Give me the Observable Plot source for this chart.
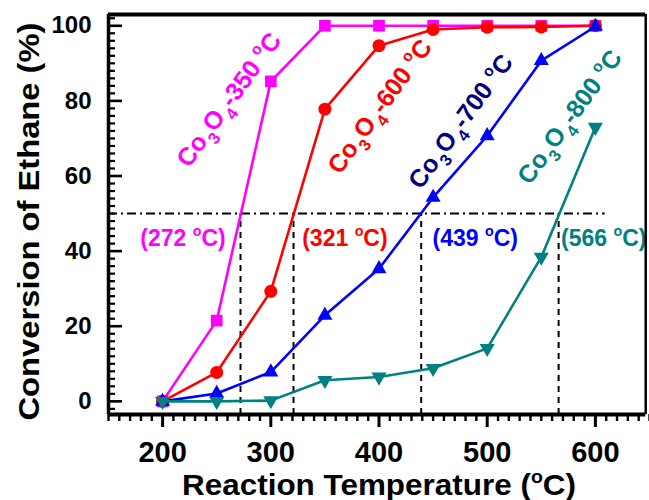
<!DOCTYPE html>
<html>
<head>
<meta charset="utf-8">
<script src="https://cdn.jsdelivr.net/npm/d3@7"></script>
<script src="https://cdn.jsdelivr.net/npm/@observablehq/plot@0.6"></script>
<style>
  html, body { margin: 0; padding: 0; background: #fff; }
  #chart { width: 649px; height: 500px; }
</style>
</head>
<body>
<div id="chart"></div>
<script>
// ---------- data ----------
const temps = [200, 250, 300, 350, 400, 450, 500, 550, 600];
const co350 = [0, 21.5, 85.2, 100, 100, 100, 100, 100, 100];
const co600 = [0, 7.7, 29.3, 77.8, 94.7, 99.0, 99.6, 99.7, 100];
const co700 = [0, 2.1, 7.8, 22.9, 35.3, 54.3, 70.7, 90.7, 99.8];
const co800 = [0, 0, 0.2, 5.6, 6.5, 8.8, 14.1, 38.4, 73.0];

const seriesNames = ["Co3O4-350 °C", "Co3O4-600 °C", "Co3O4-700 °C", "Co3O4-800 °C"];
const t50 = [272, 321, 439, 566];
const t50Labels = ["(272 °C)", "(321 °C)", "(439 °C)", "(566 °C)"];
const halfConversion = 50;
const halfLineEnd = 609;

// annotation anchors (data units)
const nameX = [218.4, 357.9, 432.7, 533.4];
const nameY = [63.2, 61.4, 57.4, 58.6];
const t50LabelX = [218.8, 368.5, 489, 607.7];
const t50LabelY = [43.4, 43.4, 43.4, 43.4];

const xTicks = [200, 300, 400, 500, 600];
const yTicks = [0, 20, 40, 60, 80, 100];
const xTitle = "Reaction Temperature (°C)";
const yTitle = "Conversion of Ethane (%)";

// ---------- styling ----------
const W = 649, H = 500;
const mL = 108, mR = 0, mT = 14, mB = 86;
const xDom = [150, 650], yDom = [-3.5, 103];
const pxX = (W - mL - mR) / (xDom[1] - xDom[0]);
const pxY = (H - mT - mB) / (yDom[1] - yDom[0]);
const FONT = "'Liberation Sans', Arial, Helvetica, sans-serif";
const lineColors = ["#ff00ff", "#ff0000", "#0000ff", "#008080"];
const nameColors = ["#ff00ff", "#ff0000", "#000080", "#008080"];
const t50Colors = ["#ff00ff", "#ff0000", "#0000ff", "#008080"];

const triangleDown = {
  draw(ctx, size) {
    const y = Math.sqrt(size / (Math.sqrt(3) * 3));
    ctx.moveTo(0, 2 * y);
    ctx.lineTo(-Math.sqrt(3) * y, -y);
    ctx.lineTo(Math.sqrt(3) * y, -y);
    ctx.closePath();
  }
};
const symbols = ["square", "circle", "triangle", triangleDown];
const radii = [6.6, 6.5, 5.6, 5.6];

const allSeries = [co350, co600, co700, co800];
const rows = allSeries.map(vals => temps.map((t, i) => ({t, v: vals[i]})));

const xMinor = d3.range(150, 651, 10).filter(v => !xTicks.includes(v));
const yMinor = d3.range(-2, 103, 2).filter(v => !yTicks.includes(v));

const marks = [];
// reference lines
marks.push(Plot.ruleY([halfConversion], {x1: xDom[0], x2: halfLineEnd, stroke: "#000", strokeWidth: 2, strokeDasharray: "9,4,2,4"}));
marks.push(Plot.ruleX(t50, {x: d => d, y1: yDom[0], y2: halfConversion, stroke: "#000", strokeWidth: 2, strokeDasharray: "6,5"}));
// series
rows.forEach((r, k) => {
  marks.push(Plot.line(r, {x: "t", y: "v", stroke: lineColors[k], strokeWidth: 2.6}));
  marks.push(Plot.dot(r, {x: "t", y: "v", fill: lineColors[k], stroke: "none", symbol: symbols[k], r: radii[k]}));
});
// T50 labels
t50Labels.forEach((s, k) => {
  marks.push(Plot.text([s], {x: t50LabelX[k], y: t50LabelY[k], text: d => d, fill: t50Colors[k], fontSize: 23, fontWeight: "bold", fontFamily: FONT}));
});
// series names
seriesNames.forEach((s, k) => {
  marks.push(Plot.text([s], {x: nameX[k], y: nameY[k], text: d => d, fill: nameColors[k], fontSize: 25, fontWeight: "bold", fontFamily: FONT, rotate: -54, textAnchor: "start", lineAnchor: "middle"}));
});
// ticks
marks.push(Plot.ruleY(yTicks, {y: d => d, x1: xDom[0], x2: xDom[0] + 14 / pxX, stroke: "#000", strokeWidth: 2.6}));
marks.push(Plot.ruleY(yMinor, {y: d => d, x1: xDom[0], x2: xDom[0] + 7 / pxX, stroke: "#000", strokeWidth: 2.2}));
marks.push(Plot.ruleX(xTicks, {x: d => d, y1: yDom[0], y2: yDom[0] - 13 / pxY, stroke: "#000", strokeWidth: 3}));
marks.push(Plot.ruleX(xMinor, {x: d => d, y1: yDom[0], y2: yDom[0] - 7 / pxY, stroke: "#000", strokeWidth: 2.4}));
// frame
marks.push(Plot.ruleY([yDom[0]], {x1: xDom[0], x2: 646.5, stroke: "#000", strokeWidth: 4}));
marks.push(Plot.ruleY([yDom[1]], {x1: xDom[0], x2: 646.5, stroke: "#000", strokeWidth: 4}));
marks.push(Plot.ruleX([xDom[0]], {y1: yDom[0], y2: yDom[1], stroke: "#000", strokeWidth: 3.5}));
marks.push(Plot.ruleX([646.5], {y1: yDom[0], y2: yDom[1], stroke: "#000", strokeWidth: 2.5}));
// tick labels
marks.push(Plot.text(xTicks, {x: d => d, text: d => String(d), frameAnchor: "bottom", dy: 38, textAnchor: "middle", lineAnchor: "middle", fontSize: 29, fontWeight: "bold", fontFamily: FONT, fill: "#000"}));
marks.push(Plot.text(yTicks, {y: d => d, text: d => String(d), frameAnchor: "left", dx: -17, textAnchor: "end", lineAnchor: "middle", fontSize: 24, fontWeight: "bold", fontFamily: FONT, fill: "#000"}));
// axis titles
marks.push(Plot.text([xTitle], {text: d => d, frameAnchor: "bottom", dy: 71, textAnchor: "middle", lineAnchor: "middle", fontSize: 30, fontWeight: "bold", fontFamily: FONT, fill: "#000"}));
marks.push(Plot.text([yTitle], {text: d => d, frameAnchor: "left", dx: -79, dy: 7, rotate: -90, textAnchor: "middle", lineAnchor: "middle", fontSize: 30, fontWeight: "bold", fontFamily: FONT, fill: "#000"}));

const plot = Plot.plot({
  width: W, height: H,
  marginLeft: mL, marginRight: mR, marginTop: mT, marginBottom: mB,
  x: {domain: xDom, axis: null},
  y: {domain: yDom, axis: null},
  style: {background: "#fff", fontFamily: FONT, overflow: "visible"},
  marks
});
document.getElementById("chart").append(plot);

// rich text: chemical subscripts and superscript degree "o"
(function richText(svg) {
  const ns = "http://www.w3.org/2000/svg";
  svg.querySelectorAll("text").forEach(el => {
    const s = el.textContent;
    if (s === yTitle) {
      el.setAttribute("textLength", 398);
      el.setAttribute("lengthAdjust", "spacingAndGlyphs");
      return;
    }
    if (!/Co3O4|°/.test(s)) return;
    const f = parseFloat(getComputedStyle(el).fontSize) || 20;
    const isFormula = /Co3O4/.test(s);
    const tokens = [];
    let i = 0, buf = "";
    while (i < s.length) {
      if (s.startsWith("Co3O4", i)) {
        if (buf) { tokens.push([buf, 0]); buf = ""; }
        tokens.push(["Co", 0], ["3", 1], ["O", 0], ["4", 1]);
        i += 5;
      } else if (s[i] === "°") {
        if (buf) { tokens.push([buf, 0]); buf = ""; }
        tokens.push(["o", -1]);
        i += 1;
      } else { buf += s[i]; i += 1; }
    }
    if (buf) tokens.push([buf, 0]);
    el.textContent = "";
    let cur = 0;
    tokens.forEach(([txt, lvl]) => {
      const off = lvl === 1 ? 0.32 * f : lvl === -1 ? -0.42 * f : 0;
      const ts = document.createElementNS(ns, "tspan");
      ts.textContent = txt;
      if (off !== cur) ts.setAttribute("dy", (off - cur).toFixed(2));
      if (lvl !== 0) ts.setAttribute("font-size", ((lvl === 1 ? 0.66 : 0.62) * f).toFixed(2));
      if (isFormula && lvl === 1) ts.setAttribute("dx", (0.06 * f).toFixed(2));
      cur = off;
      el.appendChild(ts);
    });
    if (s === xTitle) {
      el.setAttribute("textLength", 394);
      el.setAttribute("lengthAdjust", "spacingAndGlyphs");
    }
  });
})(plot);
</script>
</body>
</html>
